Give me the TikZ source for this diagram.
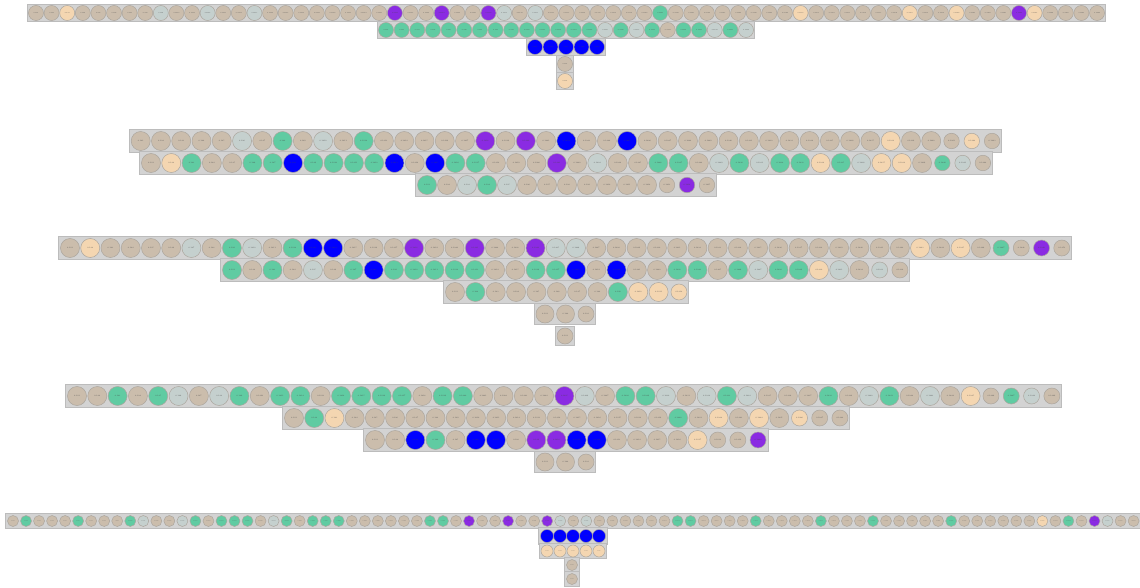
\documentclass[tikz,border=0pt]{standalone}
\usetikzlibrary{fit,backgrounds}
\definecolor{tn}{RGB}{203,189,172}
\definecolor{pc}{RGB}{244,214,177}
\definecolor{gy}{RGB}{197,208,206}
\definecolor{gn}{RGB}{96,203,162}
\definecolor{vi}{RGB}{138,43,226}
\definecolor{bl}{RGB}{0,0,255}
\definecolor{rim}{RGB}{172,166,158}
\definecolor{boxgray}{RGB}{211,211,211}
\definecolor{boxrim}{RGB}{188,188,188}
\definecolor{ink}{RGB}{70,70,70}

\begin{document}
\begin{tikzpicture}[x=1pt,y=-1pt,
  ball/.style={circle, draw=rim, line width=0.5pt, fill=#1, inner sep=0pt, text=ink},
  mid/.style={minimum size=15pt, font=\fontsize{1.5}{2}\selectfont},
  big/.style={minimum size=19pt, font=\fontsize{1.8}{2}\selectfont},
  small/.style={minimum size=11pt, font=\fontsize{1.1}{1.5}\selectfont},
  rowbox/.style={rectangle, draw=boxrim, fill=boxgray, line width=0.6pt, inner sep=#1},
  rowbox/.default=1.5pt]
\useasboundingbox (0,0) rectangle (1140,588);

% first tree
\foreach \col [count=\i] in {tn,tn,pc,tn,tn,tn,tn,tn,gy,tn,tn,gy,tn,tn,gy,tn,tn,tn,tn,tn,tn,tn,tn,vi,
  tn,tn,vi,tn,tn,vi,gy,tn,gy,tn,tn,tn,tn,tn,tn,tn,gn,tn,tn,tn,tn,tn,tn,tn,tn,pc,
  tn,tn,tn,tn,tn,tn,pc,tn,tn,pc,tn,tn,tn,vi,pc,tn,tn,tn,tn}
  \node[ball=\col, mid] (a1-\i) at ({36+15.603*(\i-1)},13) {0.12\i};
\foreach \col [count=\i] in {gn,gn,gn,gn,gn,gn,gn,gn,gn,gn,gn,gn,gn,gn,gy,gn,gy,gn,tn,gn,gn,gy,gn,gy}
  \node[ball=\col, mid] (a2-\i) at ({386+15.652*(\i-1)},30) {0.12\i};
\foreach \i in {1,...,5}
  \node[ball=bl, mid] (a3-\i) at ({535+15.5*(\i-1)},47) {0.12\i};
\node[ball=tn, mid] (a4-1) at (565,64) {0.121};
\node[ball=pc, mid] (a5-1) at (565,81) {0.121};
\begin{scope}[on background layer]
  \node[rowbox=1pt, fit=(a1-1)(a1-69)] (a1) {};
  \node[rowbox=1pt, fit=(a2-1)(a2-24)] (a2) {};
  \node[rowbox=1pt, fit=(a3-1)(a3-5)] (a3) {};
  \node[rowbox=1pt, fit=(a4-1)] (a4) {};
  \node[rowbox=1pt, fit=(a5-1)] (a5) {};
\end{scope}

% second tree
\foreach \col [count=\i, evaluate=\i as \sz using {\i>40 ? 15.5 : 19}] in {tn,tn,tn,tn,tn,gy,tn,gn,tn,gy,tn,gn,tn,tn,tn,tn,tn,vi,tn,vi,tn,bl,
  tn,tn,bl,tn,tn,tn,tn,tn,tn,tn,tn,tn,tn,tn,tn,pc,tn,tn,tn,pc,tn}
  \node[ball=\col, big, minimum size=\sz pt] (b1-\i) at ({140.7+20.27*(\i-1)},141) {0.12\i};
\foreach \col [count=\i, evaluate=\i as \sz using {\i>39 ? 15.5 : 19}] in {tn,pc,gn,tn,tn,gn,gn,bl,gn,gn,gn,gn,bl,tn,bl,gn,gn,tn,tn,tn,vi,
  tn,gy,tn,tn,gn,gn,tn,gy,gn,gy,gn,gn,pc,gn,gy,pc,pc,tn,gn,gy,tn}
  \node[ball=\col, big, minimum size=\sz pt] (b2-\i) at ({151+20.29*(\i-1)},163) {0.12\i};
\foreach \col [count=\i, evaluate=\i as \sz using {\i>12 ? 15.5 : 19}] in {gn,tn,gy,gn,gy,tn,tn,tn,tn,tn,tn,tn,tn,vi,tn}
  \node[ball=\col, big, minimum size=\sz pt] (b3-\i) at ({427+20*(\i-1)},185) {0.12\i};
\begin{scope}[on background layer]
  \node[rowbox, fit=(b1-1)(b1-43)] (b1) {};
  \node[rowbox, fit=(b2-1)(b2-42)] (b2) {};
  \node[rowbox, fit=(b3-1)(b3-15)] (b3) {};
\end{scope}

% third tree
\foreach \col [count=\i, evaluate=\i as \sz using {\i>46 ? 16 : 19}] in {tn,pc,tn,tn,tn,tn,gy,tn,gn,gy,tn,gn,bl,bl,tn,tn,tn,vi,tn,tn,
  vi,tn,tn,vi,gy,gy,tn,tn,tn,tn,tn,tn,tn,tn,tn,tn,tn,tn,tn,tn,tn,tn,pc,tn,pc,tn,gn,tn,vi,tn}
  \node[ball=\col, big, minimum size=\sz pt] (c1-\i) at ({70+20.24*(\i-1)},248) {0.12\i};
\foreach \col [count=\i, evaluate=\i as \sz using {\i>32 ? 16 : 19}] in {gn,tn,gn,tn,gy,tn,gn,bl,gn,gn,gn,gn,gn,tn,tn,gn,gn,bl,tn,bl,
  tn,tn,gn,gn,tn,gn,gy,gn,gn,pc,gy,tn,gy,tn}
  \node[ball=\col, big, minimum size=\sz pt] (c2-\i) at ({232+20.24*(\i-1)},270) {0.12\i};
\foreach \col [count=\i, evaluate=\i as \sz using {\i>11 ? 16 : 19}] in {tn,gn,tn,tn,tn,tn,tn,tn,gn,pc,pc,pc}
  \node[ball=\col, big, minimum size=\sz pt] (c3-\i) at ({455+20.36*(\i-1)},292) {0.12\i};
\foreach \i [evaluate=\i as \sz using {\i>2 ? 16 : 18}] in {1,2,3}
  \node[ball=tn, big, minimum size=\sz pt] (c4-\i) at ({545+20.5*(\i-1)},314) {0.12\i};
\node[ball=tn, big, minimum size=16pt] (c5-1) at (565,336) {0.121};
\begin{scope}[on background layer]
  \node[rowbox, fit=(c1-1)(c1-50)] (c1) {};
  \node[rowbox, fit=(c2-1)(c2-34)] (c2) {};
  \node[rowbox, fit=(c3-1)(c3-12)] (c3) {};
  \node[rowbox, fit=(c4-1)(c4-3)] (c4) {};
  \node[rowbox, fit=(c5-1)] (c5) {};
\end{scope}

% fourth tree
\foreach \col [count=\i, evaluate=\i as \sz using {\i>45 ? 16 : 19}] in {tn,tn,gn,tn,gn,gy,tn,gy,gn,tn,gn,gn,tn,gn,gn,gn,gn,tn,gn,gn,
  tn,tn,tn,tn,vi,gy,tn,gn,gn,gy,tn,gy,gn,gy,tn,tn,tn,gn,tn,gy,gn,tn,gy,tn,pc,tn,gn,gy,tn}
  \node[ball=\col, big, minimum size=\sz pt] (d1-\i) at ({77+20.31*(\i-1)},396) {0.12\i};
\foreach \col [count=\i, evaluate=\i as \sz using {\i>25 ? 16 : 19}] in {tn,gn,pc,tn,tn,tn,tn,tn,tn,tn,tn,tn,tn,tn,tn,tn,tn,tn,tn,gn,
  tn,pc,tn,pc,tn,pc,tn,tn}
  \node[ball=\col, big, minimum size=\sz pt] (d2-\i) at ({294+20.22*(\i-1)},418) {0.12\i};
\foreach \col [count=\i, evaluate=\i as \sz using {\i>17 ? 16 : 19}] in {tn,tn,bl,gn,tn,bl,bl,tn,vi,vi,bl,bl,tn,tn,tn,tn,pc,tn,tn,vi}
  \node[ball=\col, big, minimum size=\sz pt] (d3-\i) at ({375+20.16*(\i-1)},440) {0.12\i};
\foreach \i [evaluate=\i as \sz using {\i>2 ? 16 : 18}] in {1,2,3}
  \node[ball=tn, big, minimum size=\sz pt] (d4-\i) at ({545+20.5*(\i-1)},462) {0.12\i};
\begin{scope}[on background layer]
  \node[rowbox, fit=(d1-1)(d1-49)] (d1) {};
  \node[rowbox, fit=(d2-1)(d2-28)] (d2) {};
  \node[rowbox, fit=(d3-1)(d3-20)] (d3) {};
  \node[rowbox, fit=(d4-1)(d4-3)] (d4) {};
\end{scope}

% fifth tree
\foreach \col [count=\i] in {tn,gn,tn,tn,tn,gn,tn,tn,tn,gn,gy,tn,tn,gy,gn,tn,gn,gn,gn,tn,
  gy,gn,tn,gn,gn,gn,tn,tn,tn,tn,tn,tn,gn,gn,tn,vi,tn,tn,vi,tn,tn,vi,gy,tn,gy,tn,tn,tn,tn,tn,
  tn,gn,gn,tn,tn,tn,tn,gn,tn,tn,tn,tn,gn,tn,tn,tn,gn,tn,tn,tn,tn,tn,gn,tn,tn,tn,tn,tn,tn,pc,
  tn,gn,tn,vi,gy,tn,tn}
  \node[ball=\col, small] (e1-\i) at ({13+13.03*(\i-1)},521) {0.12\i};
\foreach \i in {1,...,5}
  \node[ball=bl, small, minimum size=13pt] (e2-\i) at ({547+13*(\i-1)},536) {0.12\i};
\foreach \i in {1,...,5}
  \node[ball=pc, small, minimum size=12pt] (e3-\i) at ({547+13*(\i-1)},551) {0.12\i};
\node[ball=tn, small] (e4-1) at (572,565) {0.121};
\node[ball=tn, small] (e5-1) at (572,579) {0.121};
\begin{scope}[on background layer]
  \node[rowbox, fit=(e1-1)(e1-87)] (e1) {};
  \node[rowbox, fit=(e2-1)(e2-5)] (e2) {};
  \node[rowbox, fit=(e3-1)(e3-5)] (e3) {};
  \node[rowbox, fit=(e4-1)] (e4) {};
  \node[rowbox, fit=(e5-1)] (e5) {};
\end{scope}
\end{tikzpicture}
\end{document}
